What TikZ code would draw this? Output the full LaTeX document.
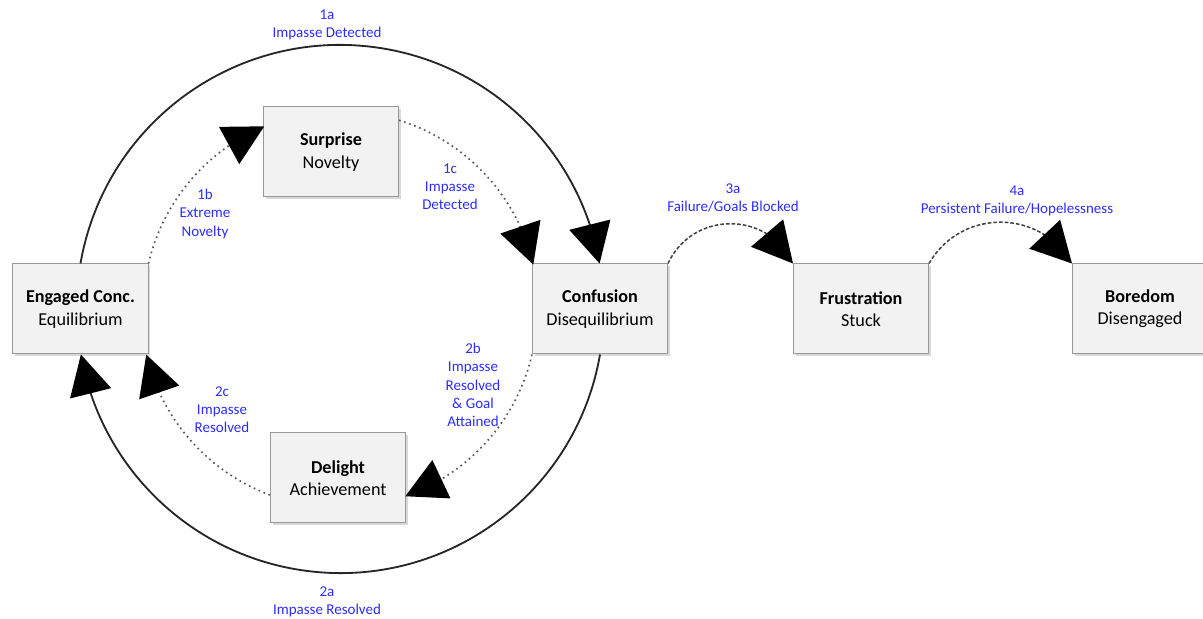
\documentclass[tikz,border=0pt]{standalone}
\usepackage{fontspec}
\setmainfont{Carlito}
\usetikzlibrary{arrows.meta,bending,shadows}
\definecolor{labelblue}{RGB}{45,45,250}
\definecolor{boxfill}{RGB}{242,242,242}

\begin{document}
\begin{tikzpicture}[x=0.3mm,y=0.3mm,
    state/.style={draw=black!40, line width=0.3mm, fill=boxfill,
        minimum width=40.5mm, minimum height=27mm, align=center,
        font=\fontsize{15.5}{19}\selectfont,
        drop shadow={shadow xshift=0.7mm, shadow yshift=-0.7mm, opacity=0.3}},
    trans/.style={text=labelblue, align=center, font=\fontsize{12.8}{15.5}\selectfont},
    bigtip/.style={-{Triangle[length=12mm, width=12.6mm, flex, color=black]}},
    mainarc/.style={bigtip, line width=0.55mm, black!85},
    innerarc/.style={bigtip, line width=0.5mm, black!65, dash pattern=on 0.5mm off 1.1mm},
    jumparc/.style={bigtip, line width=0.45mm, black!75, dash pattern=on 1.1mm off 0.6mm}]
    \useasboundingbox (0,0) rectangle (1203,619);

    % States
    \node[state] (eng)  at (80.5,310) {\textbf{Engaged Conc.}\\Equilibrium};
    \node[state] (sur)  at (331,467)  {\textbf{Surprise}\\Novelty};
    \node[state] (conf) at (600,310)  {\textbf{Confusion}\\Disequilibrium};
    \node[state] (fru)  at (861,310)  {\textbf{Frustration}\\Stuck};
    \node[state] (bor)  at (1140,310) {\textbf{Boredom}\\Disengaged};
    \node[state] (del)  at (338,141)  {\textbf{Delight}\\Achievement};

    % Outer cycle
    \draw[mainarc] (eng.north) arc[start angle=170.2, end angle=9.8, radius=263.4];
    \draw[mainarc] (conf.south) arc[start angle=-9.8, end angle=-170.2, radius=263.4];

    % Inner cycle
    \draw[innerarc] (eng.north east) arc[start angle=166.8, end angle=112.9, radius=198];
    \draw[innerarc] (sur.25) arc[start angle=72.8, end angle=13.1, radius=198];
    \draw[innerarc] (conf.south west) arc[start angle=-13.1, end angle=-70.5, radius=198];
    \draw[innerarc] (del.194) arc[start angle=-110.4, end angle=-166.8, radius=198];

    % Way out
    \draw[jumparc] (conf.north east) to[bend left=65, looseness=1.2] (fru.north west);
    \draw[jumparc] (fru.north east) to[bend left=60, looseness=1.14] (bor.north west);

    % Transition labels
    \node[trans] (t1a) at (327,594) {1a\\Impasse Detected};
    \node[trans] (t1b) at (205,405) {1b\\Extreme\\Novelty};
    \node[trans] (t1c) at (450,432) {1c\\Impasse\\Detected};
    \node[trans] (t2a) at (327,17)  {2a\\Impasse Resolved};
    \node[trans] (t2b) at (473,234) {2b\\Impasse\\Resolved\\\& Goal\\Attained};
    \node[trans] (t2c) at (222,209) {2c\\Impasse\\Resolved};
    \node[trans] (t3a) at (733,421) {3a\\Failure/Goals Blocked};
    \node[trans] (t4a) at (1017,418) {4a\\Persistent Failure/Hopelessness};
\end{tikzpicture}
\end{document}
